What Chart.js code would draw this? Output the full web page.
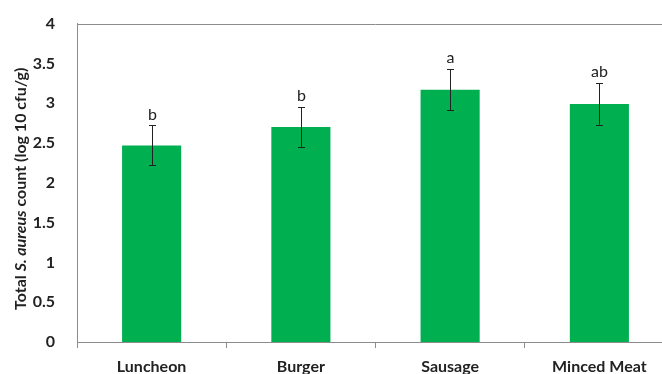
<!DOCTYPE html>
<html>
<head>
<meta charset="utf-8">
<script src="https://cdn.jsdelivr.net/npm/chart.js@4.4.0/dist/chart.umd.min.js"></script>
<style>
  html, body { margin: 0; padding: 0; background: #fff; overflow: hidden; }
  #wrap { width: 674px; height: 380px; }
</style>
</head>
<body>
<div id="wrap"><canvas id="chart"></canvas></div>
<script>
// ── Data ───────────────────────────────────────────────────────
const categories = ['Luncheon', 'Burger', 'Sausage', 'Minced Meat'];
const means      = [2.47, 2.70, 3.17, 2.99];
const errors     = [0.25, 0.25, 0.26, 0.26];
const letters    = ['b', 'b', 'a', 'ab'];
const yTicks     = [0, 0.5, 1, 1.5, 2, 2.5, 3, 3.5, 4];

const FONT = 'Lato, "Open Sans", sans-serif';
const AXIS_GRAY = '#8c8c8c';

// ── Error bars + significance letters ──────────────────────────
const errorBars = {
  id: 'errorBars',
  afterDatasetsDraw(chart) {
    const { ctx, scales: { y } } = chart;
    const meta = chart.getDatasetMeta(0);
    ctx.save();
    ctx.strokeStyle = '#222';
    ctx.lineWidth = 1;
    meta.data.forEach((bar, i) => {
      const x = Math.round(bar.x) + 0.5;
      const top = y.getPixelForValue(means[i] + errors[i]);
      const bot = y.getPixelForValue(means[i] - errors[i]);
      ctx.beginPath();
      ctx.moveTo(x, top); ctx.lineTo(x, bot);
      ctx.moveTo(x - 3.5, Math.round(top) + 0.5); ctx.lineTo(x + 3.5, Math.round(top) + 0.5);
      ctx.moveTo(x - 3.5, Math.round(bot) + 0.5); ctx.lineTo(x + 3.5, Math.round(bot) + 0.5);
      ctx.stroke();

      ctx.fillStyle = '#222';
      ctx.font = '16px ' + FONT;
      ctx.textAlign = 'center';
      ctx.textBaseline = 'bottom';
      ctx.fillText(letters[i], x, top - 3);
    });
    ctx.restore();
  }
};

// ── Top frame line + mixed-style y title ──────────────────────
const frameAndTitle = {
  id: 'frameAndTitle',
  afterDraw(chart) {
    const { ctx, chartArea: a } = chart;
    ctx.save();
    ctx.strokeStyle = AXIS_GRAY;
    ctx.lineWidth = 1;
    ctx.beginPath();
    ctx.moveTo(a.left, Math.round(a.top) + 0.5);
    ctx.lineTo(a.right, Math.round(a.top) + 0.5);
    ctx.stroke();

    const parts = [
      ['Total ', 'bold 16px ' + FONT],
      ['S. aureus', 'italic bold 16px ' + FONT],
      [' count (log 10 cfu/g)', 'bold 16px ' + FONT],
    ];
    let total = 0;
    parts.forEach(([t, f]) => { ctx.font = f; total += ctx.measureText(t).width; });
    ctx.translate(21, (a.top + a.bottom) / 2 + 6);
    ctx.rotate(-Math.PI / 2);
    ctx.fillStyle = '#222';
    ctx.textBaseline = 'middle';
    ctx.textAlign = 'left';
    let xx = -total / 2;
    parts.forEach(([t, f]) => { ctx.font = f; ctx.fillText(t, xx, 0); xx += ctx.measureText(t).width; });
    ctx.restore();
  }
};

new Chart(document.getElementById('chart'), {
  type: 'bar',
  data: {
    labels: categories,
    datasets: [{
      data: means,
      backgroundColor: '#00B050',
      borderWidth: 0,
      categoryPercentage: 1,
      barPercentage: 0.396,
    }]
  },
  options: {
    responsive: true,
    maintainAspectRatio: false,
    animation: false,
    events: [],
    layout: { padding: { top: 20, right: 0, left: 0, bottom: 0 } },
    plugins: { legend: { display: false }, tooltip: { enabled: false } },
    scales: {
      x: {
        grid: { display: true, drawOnChartArea: false, drawTicks: true, tickLength: 6, color: AXIS_GRAY, offset: true },
        border: { display: true, color: AXIS_GRAY },
        ticks: { color: '#222', font: { family: FONT, size: 16, weight: 'bold' }, padding: 9, maxRotation: 0 },
        afterFit(s) { s.height = 38; }
      },
      y: {
        min: 0, max: 4,
        afterBuildTicks(s) { s.ticks = yTicks.map(v => ({ value: v })); },
        grid: { display: false },
        border: { display: true, color: AXIS_GRAY },
        ticks: {
          color: '#222', font: { family: FONT, size: 16, weight: 'bold' }, padding: 14,
          callback: v => String(v)
        },
        afterFit(s) { s.width = 77; }
      }
    }
  },
  plugins: [errorBars, frameAndTitle]
});
</script>
</body>
</html>
